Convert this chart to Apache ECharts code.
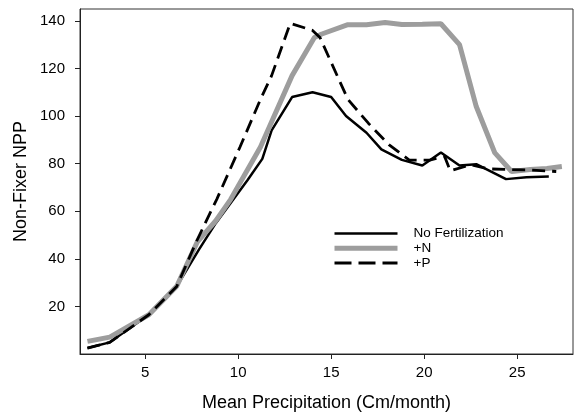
<!DOCTYPE html>
<html>
<head>
<meta charset="utf-8">
<script src="https://cdn.jsdelivr.net/npm/echarts@6/dist/echarts.min.js"></script>
<style>
  html, body { margin: 0; padding: 0; background: #fff; }
  #main { width: 574px; height: 414px; }
</style>
</head>
<body>
<div id="main"></div>
<script>
// series names
var names = ['No Fertilization', '+N', '+P'];

// No Fertilization
var noFertX = [1.9, 3.1, 5.2, 6.7, 7.9, 8.8, 9.6, 10.5, 11.3, 11.8, 12.9, 14.0, 15.0, 15.8, 16.9, 17.7, 18.8, 19.9, 20.9, 21.9, 22.8, 24.4, 25.5, 26.7];
var noFertY = [2.5, 4.9, 16.5, 28.4, 44, 55, 63.5, 73, 82, 94, 108, 110, 108, 100, 93, 86, 81.6, 79.2, 84.7, 79.2, 79.8, 73.5, 74.3, 74.6];

// +N
var plusNX = [1.9, 3.1, 5.2, 6.7, 7.8, 8.8, 9.6, 11.2, 12.9, 14.1, 14.5, 15.9, 16.9, 17.9, 18.8, 19.9, 20.9, 21.9, 22.8, 23.8, 24.7, 25.7, 26.6, 27.4];
var plusNY = [5.3, 7.1, 16.5, 28.5, 47, 56, 65, 87, 117, 133, 134.5, 138.4, 138.4, 139.3, 138.5, 138.6, 138.8, 130, 104, 84.5, 76.7, 77.5, 78, 78.8];

// +P
var plusPX = [1.9, 3.1, 5.2, 6.7, 7.8, 8.85, 10.1, 11.2, 11.8, 12.8, 14.0, 14.4, 15.9, 17.0, 18.1, 19.2, 20.3, 21.1, 21.4, 22.5, 23.5, 24.6, 25.8, 27.1];
var plusPY = [2.5, 4.9, 16.5, 28.4, 48, 65, 87, 107, 117, 139, 136, 133, 107, 97, 88, 81.5, 81.5, 83, 77, 79.5, 77.8, 77.5, 77.3, 76.7];

// tick labels
var xTicks = [5, 10, 15, 20, 25];
var yTicks = [20, 40, 60, 80, 100, 120, 140];

function pairs(xs, ys) {
    var out = [];
    for (var i = 0; i < xs.length; i++) out.push([xs[i], ys[i]]);
    return out;
}

var myChart = echarts.init(document.getElementById('main'));

var option = {
    backgroundColor: '#FFFFFF',
    animation: false,
    textStyle: { fontFamily: 'Liberation Sans' },
    legend: {
        orient: 'vertical',
        left: 327,
        top: 221.5,
        itemWidth: 63,
        itemHeight: 13,
        itemGap: 0.8,
        itemStyle: { opacity: 0 },
        textStyle: { fontSize: 13.5, color: '#000', padding: [0, 0, 0, 11] },
        data: [
            { name: names[0], lineStyle: { width: 2.5 } },
            { name: names[1], lineStyle: { width: 5 } },
            { name: names[2], lineStyle: { width: 3, type: [17, 7] } }
        ]
    },
    grid: {
        left: 80,
        right: 1,
        top: 9,
        bottom: 60,
        outerBoundsMode: 'none',   // v6 otherwise shrinks the grid to fit the axis name
        show: true,
        borderColor: '#333',
        borderWidth: 1
    },
    xAxis: {
        type: 'value',
        min: 1.5,
        max: 28,
        name: 'Mean Precipitation (Cm/month)',
        nameLocation: 'middle',
        nameGap: 40,
        nameMoveOverlap: false,
        nameTextStyle: { fontSize: 18, color: '#000' },
        axisLine: { lineStyle: { color: '#222', width: 1 } },
        axisTick: { show: true, length: 5, customValues: xTicks, lineStyle: { color: '#222' } },
        axisLabel: { fontSize: 15, color: '#000', margin: 11, customValues: xTicks },
        splitLine: { show: false }
    },
    yAxis: {
        type: 'value',
        min: 0,
        max: 145,
        name: 'Non-Fixer NPP',
        nameLocation: 'middle',
        nameGap: 50,
        nameMoveOverlap: false,
        nameTextStyle: { fontSize: 18, color: '#000' },
        axisLine: { show: true, lineStyle: { color: '#222', width: 1 } },
        axisTick: { show: true, length: 5, customValues: yTicks, lineStyle: { color: '#222' } },
        axisLabel: { fontSize: 15, color: '#000', margin: 15, customValues: yTicks },
        splitLine: { show: false }
    },
    series: [
        {
            name: names[0],
            type: 'line',
            symbol: 'none',
            data: pairs(noFertX, noFertY),
            lineStyle: { color: '#000', width: 2.5 },
            itemStyle: { color: '#000' }
        },
        {
            name: names[1],
            type: 'line',
            symbol: 'none',
            data: pairs(plusNX, plusNY),
            lineStyle: { color: '#9d9d9d', width: 5 },
            itemStyle: { color: '#9d9d9d' }
        },
        {
            name: names[2],
            type: 'line',
            symbol: 'none',
            data: pairs(plusPX, plusPY),
            lineStyle: { color: '#000', width: 2.8, type: [13, 7] },
            itemStyle: { color: '#000' }
        }
    ]
};

myChart.setOption(option);
</script>
</body>
</html>
